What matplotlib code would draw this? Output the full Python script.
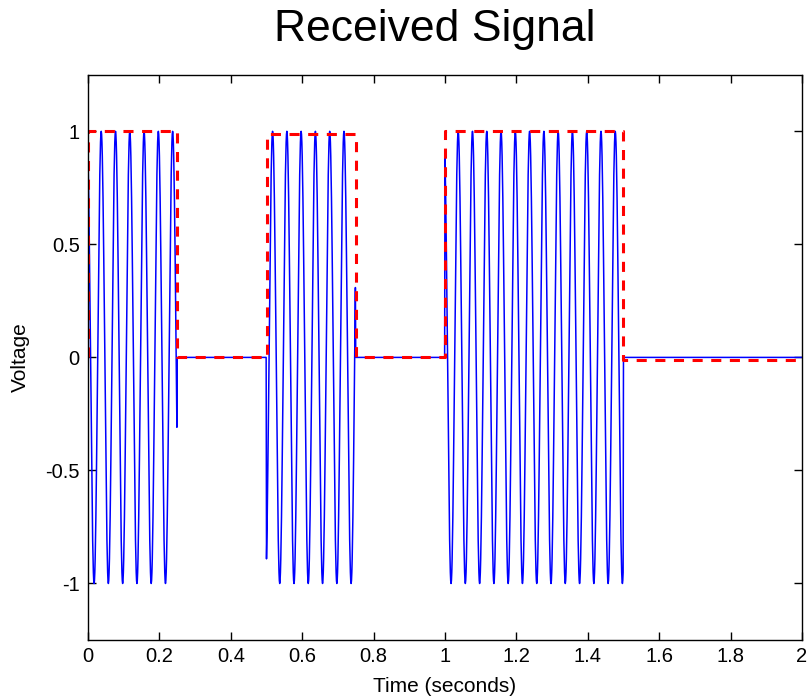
import matplotlib
matplotlib.use('Agg')
import matplotlib.pyplot as plt
import numpy as np

# bit stream (one bit every 0.25 s) and carrier settings
bits = [1, 0, 1, 0, 1, 1, 0, 0]
bit_time = 0.25
carrier_hz = 25
peak_time = 0.037          # time of first carrier peak
sample_rate = 1000

# envelope (red dashed) level per bit
envelope = [1.0, 0.0, 0.99, 0.0, 1.0, 1.0, -0.01, -0.01]

xticks = [0, 0.2, 0.4, 0.6, 0.8, 1, 1.2, 1.4, 1.6, 1.8, 2]
xtick_labels = ['0', '0.2', '0.4', '0.6', '0.8', '1', '1.2', '1.4', '1.6', '1.8', '2']
yticks = [-1, -0.5, 0, 0.5, 1]
ytick_labels = ['-1', '-0.5', '0', '0.5', '1']

plt.rcParams['font.family'] = ['Liberation Sans', 'DejaVu Sans']

n_per_bit = int(bit_time * sample_rate)
t = np.arange(len(bits) * n_per_bit + 1) / sample_rate
gate = np.repeat(bits, n_per_bit)
gate = np.append(gate, bits[-1])
carrier = np.cos(2 * np.pi * carrier_hz * (t - peak_time))
received = gate * carrier

# step envelope, rising from zero at t=0
env_t = [0]
env_y = [0]
for i, lev in enumerate(envelope):
    env_t += [i * bit_time, (i + 1) * bit_time]
    env_y += [lev, lev]

fig = plt.figure(figsize=(8.09, 6.99), dpi=100)
ax = fig.add_axes([0.1088, 0.0844, 0.8825, 0.8086])

ax.plot(t, received, color='#0000ff', linewidth=1.1)
ax.plot(env_t, env_y, color='#ff0000', linestyle=(0, (3.3, 2.8)), linewidth=2.2)

ax.set_xlim(0, 2)
ax.set_ylim(-1.25, 1.25)
ax.set_xticks(xticks)
ax.set_xticklabels(xtick_labels)
ax.set_yticks(yticks)
ax.set_yticklabels(ytick_labels)
ax.tick_params(direction='in', length=5.5, width=1, top=True, right=True,
               labelsize=14.5)
ax.tick_params(axis='x', pad=5)
ax.tick_params(axis='y', pad=6)
for s in ax.spines.values():
    s.set_linewidth(1)

# title sits a bit left of the axes centre in the original
fig.text(435 / 809, 1 - 41 / 699, 'Received Signal', fontsize=32,
         ha='center', va='baseline')
ax.set_xlabel('Time (seconds)', fontsize=15, labelpad=8)
ax.set_ylabel('Voltage', fontsize=15, labelpad=11)

fig.savefig('out.png', dpi=100)
plt.close()
